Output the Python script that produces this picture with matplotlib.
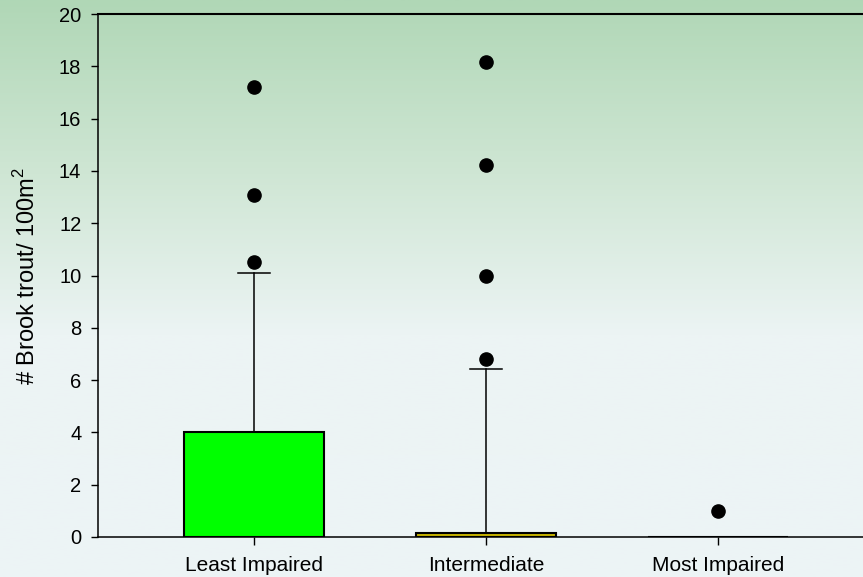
import numpy as np
import matplotlib
matplotlib.use("Agg")
import matplotlib.pyplot as plt
from matplotlib.colors import LinearSegmentedColormap

plt.rcParams["font.family"] = ["Liberation Sans", "DejaVu Sans"]
plt.rcParams["mathtext.fontset"] = "custom"
plt.rcParams["mathtext.rm"] = "Liberation Sans"

# data
groups = ["Least Impaired", "Intermediate", "Most Impaired"]
q1 = [0.0, 0.0, 0.0]
median = [0.0, 0.0, 0.0]
q3 = [4.0, 0.15, 0.0]
whisker_low = [0.0, 0.0, 0.0]
whisker_high = [10.1, 6.42, 0.0]
outliers = [
    [10.52, 13.08, 17.21],
    [6.81, 9.98, 14.23, 18.16],
    [0.99],
]
box_colors = ["#00ff00", "#c8b400", "#c8b400"]

fig = plt.figure(figsize=(8.63, 5.77), dpi=100)

# background gradient over the whole figure
bg = fig.add_axes([0, 0, 1, 1], zorder=-1)
cmap = LinearSegmentedColormap.from_list(
    "bg", [(0.0, "#edf4f6"), (0.42, "#ecf4f4"), (0.7, "#cfe6d4"), (1.0, "#b0d7b6")]
)
grad = np.linspace(0, 1, 256).reshape(-1, 1)
bg.imshow(grad, aspect="auto", cmap=cmap, origin="lower", extent=[0, 1, 0, 1])
bg.axis("off")

# axes runs past the right edge of the figure, as in the original
ax = fig.add_axes([98 / 863, 40 / 577, 775 / 863, 523 / 577])
ax.set_facecolor("none")

stats = []
for i in range(len(groups)):
    stats.append({
        "label": groups[i],
        "q1": q1[i],
        "med": median[i],
        "q3": q3[i],
        "whislo": whisker_low[i],
        "whishi": whisker_high[i],
        "fliers": outliers[i],
    })

bp = ax.bxp(
    stats,
    positions=[1, 2, 3],
    widths=0.6,
    patch_artist=True,
    showfliers=True,
    boxprops=dict(edgecolor="black", linewidth=1.5),
    whiskerprops=dict(color="black", linewidth=1.1),
    capprops=dict(color="black", linewidth=1.1),
    medianprops=dict(color="black", linewidth=1.1),
    flierprops=dict(marker="o", markerfacecolor="black", markeredgecolor="black",
                    markersize=9.5, linestyle="none"),
    capwidths=0.14,
)
for patch, c in zip(bp["boxes"], box_colors):
    patch.set_facecolor(c)
    patch.set_zorder(3)

ax.set_xlim(0.328, 3.668)
ax.set_ylim(0, 20)
ax.set_yticks(np.arange(0, 21, 2))
ax.set_xticks([1, 2, 3])
ax.set_xticklabels(groups)

ax.spines["right"].set_visible(False)
for s in ["left", "bottom", "top"]:
    ax.spines[s].set_linewidth(1.1)
ax.spines["top"].set_linewidth(1.5)

ax.tick_params(axis="y", direction="out", length=5, width=1, pad=7, labelsize=14.5)
ax.tick_params(axis="x", direction="out", length=6, width=1, pad=8, labelsize=15)

ax.set_ylabel("# Brook trout/ 100m$^2$", fontsize=17, labelpad=14)

fig.savefig("out.png", dpi=100)
